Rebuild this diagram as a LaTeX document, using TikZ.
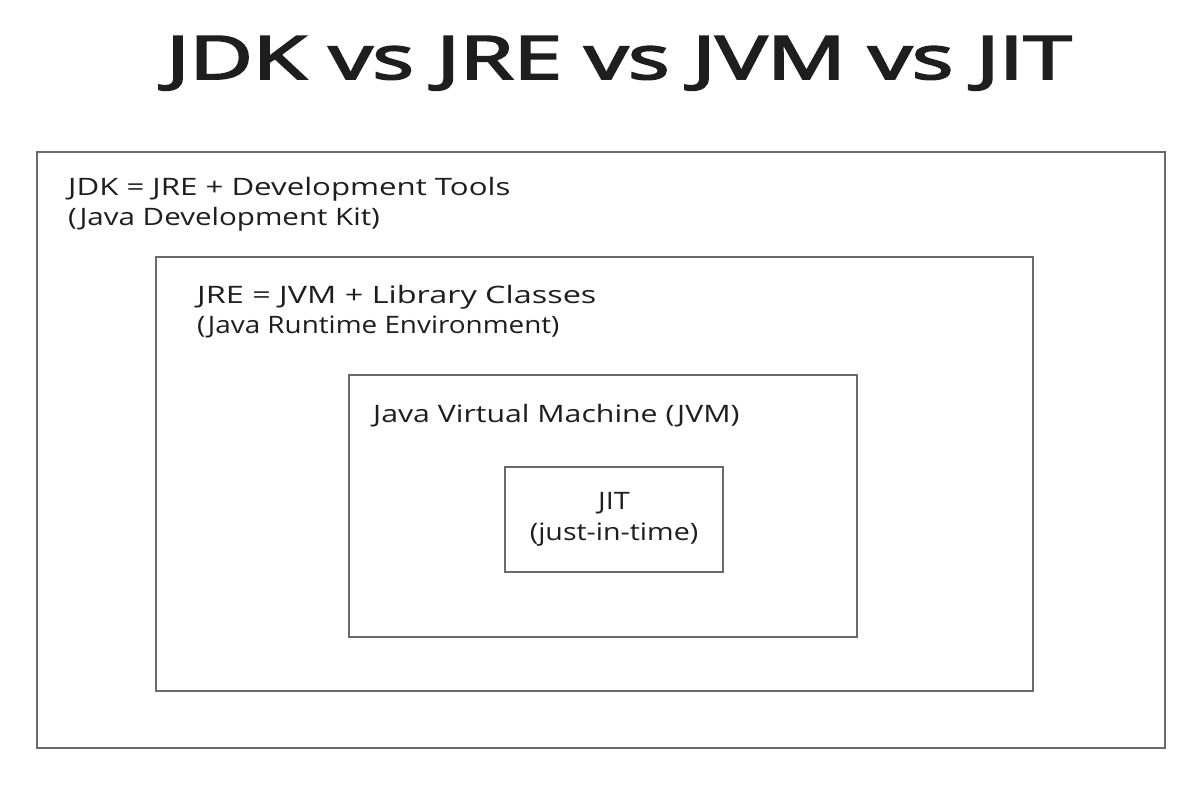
\documentclass[tikz,border=0pt]{standalone}
\usepackage{fontspec}
\setmainfont{Open Sans}
\newfontfamily\titlefont{Open Sans}[FakeBold=3]
\definecolor{ink}{HTML}{1E1E1E}
\definecolor{edge}{HTML}{6A6A6A}
\newcommand{\wide}[2]{\scalebox{#1}[1]{#2}}
\begin{document}
\begin{tikzpicture}[x=1pt,y=-1pt,
  box/.style={draw=edge,line width=1.4pt},
  lbl/.style={anchor=base west,inner sep=0pt,text=ink,font=\fontsize{24}{28}\selectfont},
  ttl/.style={anchor=base,inner sep=0pt,text=ink,font=\titlefont\fontsize{60}{70}\selectfont}]
\useasboundingbox (0,0) rectangle (1200,786);
\fill[white] (0,0) rectangle (1200,786);
\draw[box] (37,152) rectangle (1165,748);
\draw[box] (156,257) rectangle (1033,691);
\draw[box] (349,375) rectangle (857,637);
\draw[box] (505,467) rectangle (723,572);
\node[ttl] (title) at (619,79) {\wide{1.45}{JDK vs JRE vs JVM vs JIT}};
\node[lbl] (jdk1) at (68,196) {\wide{1.3}{JDK = JRE + Development Tools}};
\node[lbl] (jdk2) at (68,226) {\wide{1.23}{(Java Development Kit)}};
\node[lbl] (jre1) at (197,304) {\wide{1.35}{JRE = JVM + Library Classes}};
\node[lbl] (jre2) at (197,334) {\wide{1.16}{(Java Runtime Environment)}};
\node[lbl] (jvm) at (373,422) {\wide{1.26}{Java Virtual Machine (JVM)}};
\node[lbl,anchor=base] (jit1) at (614,509) {\wide{1.2}{JIT}};
\node[lbl,anchor=base] (jit2) at (614,540) {\wide{1.19}{(just-in-time)}};
\end{tikzpicture}
\end{document}
